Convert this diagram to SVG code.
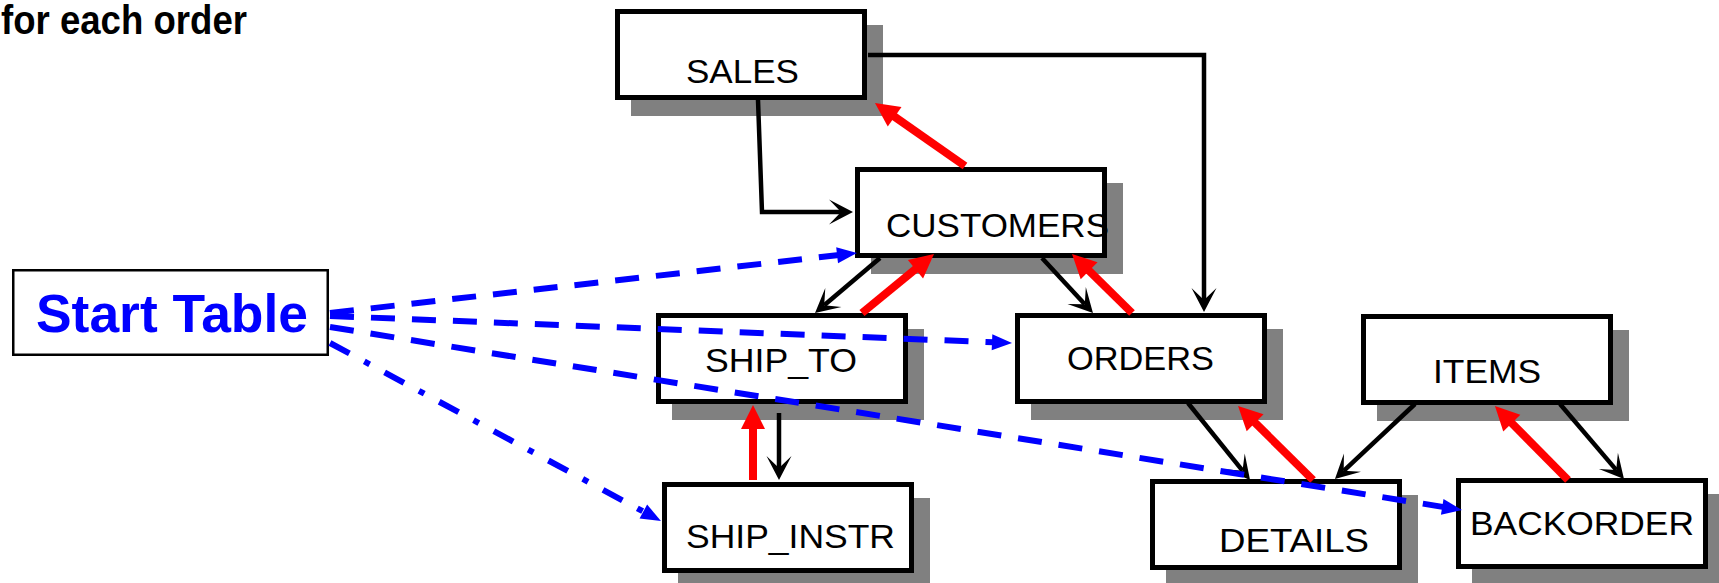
<svg xmlns="http://www.w3.org/2000/svg" width="1719" height="583" viewBox="0 0 1719 583">
<style>
.shadow{fill:#808080;stroke:none}
.box{fill:#fff;stroke:#000;stroke-width:5}
.lbl{font-family:"Liberation Sans",Arial,sans-serif;font-size:33px;fill:#000}
.blk{fill:none;stroke:#000;stroke-width:4.5;marker-end:url(#ab)}
.red{fill:none;stroke:#f00;stroke-width:8;marker-end:url(#ar)}
.blu{fill:none;stroke:#00f;stroke-width:6;stroke-dasharray:24 17;marker-end:url(#au)}
.bdd{fill:none;stroke:#00f;stroke-width:6;stroke-dasharray:22 17 6 17;marker-end:url(#au)}
</style>
<defs>
<marker id="ab" markerUnits="userSpaceOnUse" orient="auto" refX="0" refY="0" markerWidth="40" markerHeight="40" overflow="visible"><path d="M12,0 L-12,-12.5 L0,0 L-12,12.5 Z" fill="#000"/></marker>
<marker id="ar" markerUnits="userSpaceOnUse" orient="auto" refX="0" refY="0" markerWidth="40" markerHeight="40" overflow="visible"><path d="M-2,-12 L22,0 L-2,12 Z" fill="#f00"/></marker>
<marker id="au" markerUnits="userSpaceOnUse" orient="auto" refX="0" refY="0" markerWidth="40" markerHeight="40" overflow="visible"><path d="M-2,-8 L18,0 L-2,8 Z" fill="#00f"/></marker>
</defs>
<rect width="1719" height="583" fill="#fff"/>
<text x="1" y="34" font-family="'Liberation Sans',Arial,sans-serif" font-weight="bold" font-size="41" textLength="246" lengthAdjust="spacingAndGlyphs">for each order</text>
<g id="start_table">
<rect x="13.25" y="270.25" width="314.5" height="84.5" fill="#fff" stroke="#000" stroke-width="2.5"/>
<text x="36" y="332" font-family="'Liberation Sans',Arial,sans-serif" font-weight="bold" font-size="53" fill="#00f" textLength="272" lengthAdjust="spacingAndGlyphs">Start Table</text>
</g>
<g id="sales">
<rect class="shadow" x="631" y="25" width="252" height="91"/>
<rect class="box" x="617.5" y="11.5" width="247" height="86"/>
<text class="lbl" x="686" y="83" textLength="113" lengthAdjust="spacingAndGlyphs">SALES</text>
</g>
<g id="customers">
<rect class="shadow" x="871" y="183" width="252" height="91"/>
<rect class="box" x="857.5" y="169.5" width="247" height="86"/>
<text class="lbl" x="886" y="237" textLength="223" lengthAdjust="spacingAndGlyphs">CUSTOMERS</text>
</g>
<g id="ship_to">
<rect class="shadow" x="672" y="329" width="252" height="91"/>
<rect class="box" x="658.5" y="315.5" width="247" height="86"/>
<text class="lbl" x="705" y="372" textLength="152" lengthAdjust="spacingAndGlyphs">SHIP_TO</text>
</g>
<g id="orders">
<rect class="shadow" x="1031" y="329" width="252" height="91"/>
<rect class="box" x="1017.5" y="315.5" width="247" height="86"/>
<text class="lbl" x="1067" y="370" textLength="147" lengthAdjust="spacingAndGlyphs">ORDERS</text>
</g>
<g id="items">
<rect class="shadow" x="1377" y="330" width="252" height="91"/>
<rect class="box" x="1363.5" y="316.5" width="247" height="86"/>
<text class="lbl" x="1433" y="383" textLength="108" lengthAdjust="spacingAndGlyphs">ITEMS</text>
</g>
<g id="ship_instr">
<rect class="shadow" x="678" y="498" width="252" height="91"/>
<rect class="box" x="664.5" y="484.5" width="247" height="86"/>
<text class="lbl" x="686" y="548" textLength="209" lengthAdjust="spacingAndGlyphs">SHIP_INSTR</text>
</g>
<g id="details">
<rect class="shadow" x="1166" y="495" width="252" height="91"/>
<rect class="box" x="1152.5" y="481.5" width="247" height="86"/>
<text class="lbl" x="1219" y="552" textLength="150" lengthAdjust="spacingAndGlyphs">DETAILS</text>
</g>
<g id="backorder">
<rect class="shadow" x="1472" y="494" width="252" height="91"/>
<rect class="box" x="1458.5" y="480.5" width="247" height="86"/>
<text class="lbl" x="1470" y="535" textLength="224" lengthAdjust="spacingAndGlyphs">BACKORDER</text>
</g>
<g id="connectors">
<polyline class="blk" points="758,100 762,212 841,212"/>
<polyline class="blk" points="868,55 1204,55 1204,300"/>
<line class="blk" x1="880" y1="258" x2="824.2" y2="305.2"/>
<line class="blk" x1="1042" y1="258" x2="1084.8" y2="304.2"/>
<line class="blk" x1="779" y1="413" x2="779" y2="468"/>
<line class="blk" x1="1188" y1="403" x2="1242.5" y2="470.7"/>
<line class="blk" x1="1415" y1="404" x2="1343.7" y2="470.8"/>
<line class="blk" x1="1560" y1="404" x2="1616.2" y2="469.9"/>
<line class="red" x1="965" y1="166" x2="893" y2="115.6"/>
<line class="red" x1="862" y1="313" x2="917" y2="267.9"/>
<line class="red" x1="1132" y1="313" x2="1087.7" y2="269.4"/>
<line class="red" x1="753" y1="480" x2="753" y2="427"/>
<line class="red" x1="1313" y1="480" x2="1253.7" y2="421.4"/>
<line class="red" x1="1568" y1="480" x2="1510.4" y2="421.7"/>
<line class="blu" x1="330" y1="313" x2="839.1" y2="255"/>
<line class="blu" x1="330" y1="316" x2="994" y2="342.3"/>
<line class="blu" x1="330" y1="327" x2="1444.2" y2="507.1"/>
<line class="bdd" x1="330" y1="343" x2="645.1" y2="512.5"/>
</g>
</svg>
